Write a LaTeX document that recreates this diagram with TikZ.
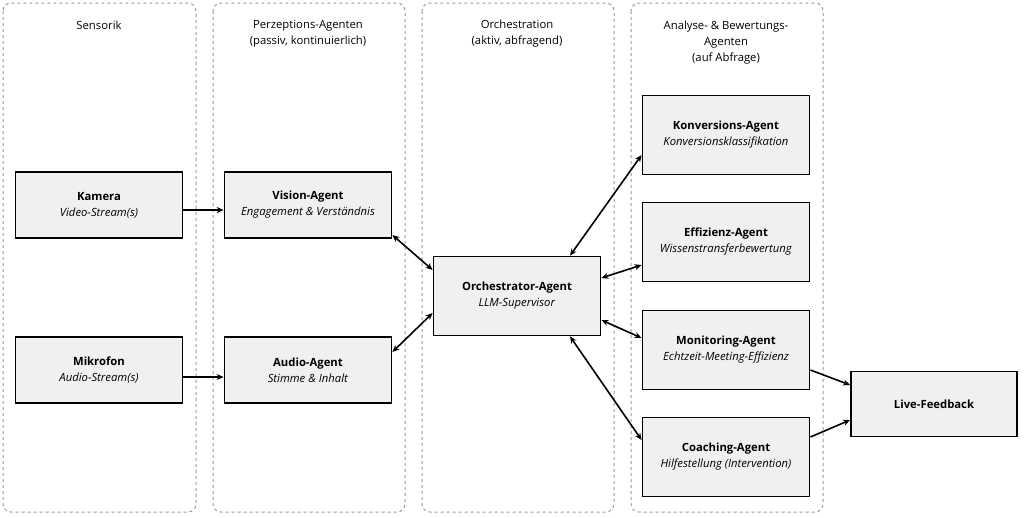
\documentclass[tikz,border=0pt]{standalone}
\usepackage{fontspec}
\setmainfont{Open Sans}
\usetikzlibrary{calc,arrows.meta}
\begin{document}
\begin{tikzpicture}[x=1pt,y=-1pt,
 col/.style={draw=gray!80,dashed,rounded corners=8pt,line width=1pt},
 box/.style={draw=black,fill=black!6,line width=1.8pt,minimum width=167pt,align=center,font=\fontsize{11.3}{16}\selectfont},
 hd/.style={align=center,font=\fontsize{11.3}{16}\selectfont},
 ar/.style={-{Stealth[length=7pt,width=6pt]},line width=1.6pt},
 dar/.style={{Stealth[length=7pt,width=6pt]}-{Stealth[length=7pt,width=6pt]},line width=1.6pt}]
\useasboundingbox (0,0) rectangle (1024,517);
\draw[col] (3,3) rectangle (196,512);
\draw[col] (213,3) rectangle (405,512);
\draw[col] (422,3) rectangle (614,512);
\draw[col] (631,3) rectangle (823,512);
\node[hd] (h1) at (99,25) {Sensorik};
\node[hd] (h2) at (308,34) {Perzeptions-Agenten\\(passiv, kontinuierlich)};
\node[hd] (h3) at (517,34) {Orchestration\\(aktiv, abfragend)};
\node[hd] (h4) at (726,43) {Analyse- \& Bewertungs-\\Agenten\\(auf Abfrage)};
\node[box,minimum height=66pt] (kam) at (99,205) {\textbf{Kamera}\\\textit{Video-Stream(s)}};
\node[box,minimum height=66pt] (mik) at (99,370) {\textbf{Mikrofon}\\\textit{Audio-Stream(s)}};
\node[box,minimum height=66pt] (vis) at (308,205) {\textbf{Vision-Agent}\\\textit{Engagement \& Verständnis}};
\node[box,minimum height=66pt] (aud) at (308,370) {\textbf{Audio-Agent}\\\textit{Stimme \& Inhalt}};
\node[box,minimum height=79pt] (orc) at (517,296) {\textbf{Orchestrator-Agent}\\\textit{LLM-Supervisor}};
\node[box,minimum height=79pt] (kon) at (726,135) {\textbf{Konversions-Agent}\\\textit{Konversionsklassifikation}};
\node[box,minimum height=79pt] (eff) at (726,242) {\textbf{Effizienz-Agent}\\\textit{Wissenstransferbewertung}};
\node[box,minimum height=79pt] (mon) at (726,350) {\textbf{Monitoring-Agent}\\\textit{Echtzeit-Meeting-Effizienz}};
\node[box,minimum height=79pt] (coa) at (726,457) {\textbf{Coaching-Agent}\\\textit{Hilfestellung (Intervention)}};
\node[box,minimum height=65pt,minimum width=166pt] (liv) at (934,404) {\textbf{Live-Feedback}};
\draw[ar] ($(kam.east)+(0,5)$) -- ($(vis.west)+(0,5)$);
\draw[ar] ($(mik.east)+(0,7)$) -- ($(aud.west)+(0,7)$);
\draw[dar] ($(vis.east)+(0,30)$) -- ($(orc.west)+(0,-26)$);
\draw[dar] ($(aud.east)+(0,-18)$) -- ($(orc.west)+(0,17)$);
\draw[dar] ($(orc.north)+(53,0)$) -- ($(kon.west)+(0,20)$);
\draw[dar] ($(orc.east)+(0,-18)$) -- ($(eff.west)+(0,23)$);
\draw[dar] ($(orc.east)+(0,24)$) -- ($(mon.west)+(0,-12)$);
\draw[dar] ($(orc.south)+(53,0)$) -- ($(coa.west)+(0,-17)$);
\draw[ar] ($(mon.east)+(0,20)$) -- ($(liv.west)+(0,-19)$);
\draw[ar] ($(coa.east)+(0,-20)$) -- ($(liv.west)+(0,16)$);
\end{tikzpicture}
\end{document}
